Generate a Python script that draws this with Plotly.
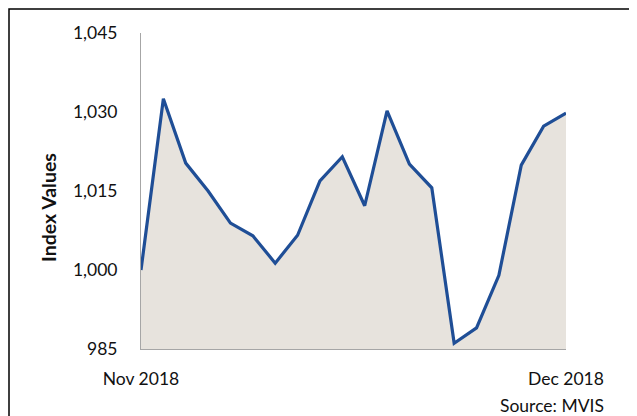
import plotly.graph_objects as go

x_idx = list(range(20))
values = [1000.0, 1032.5, 1020.3, 1015.0, 1008.9, 1006.5, 1001.3, 1006.6, 1016.9, 1021.5,
          1012.2, 1030.2, 1020.1, 1015.6, 986.1, 989.0, 999.0, 1019.9, 1027.3, 1029.8]
y_ticks = [985, 1000, 1015, 1030, 1045]
x_tickvals = [0, 19]
x_ticktext = ["Nov 2018", "Dec 2018"]

FONT = "Lato"
OFF = 8  # page body margin
L, R, T, B = 141 - OFF, 637 - 566, 33 - OFF, 416 - 349
PW, PH = 566 - 141, 349 - 33

def px_x(p):
    return (p - 141) / PW

def px_y(p):
    return (349 - p) / PH

fig = go.Figure()
fig.add_trace(go.Scatter(
    x=x_idx, y=values, mode="lines",
    line=dict(color="#1F4E96", width=3.2),
    fill="tozeroy", fillcolor="#E7E3DD",
    hoverinfo="skip", showlegend=False,
))

fig.update_layout(
    width=637 - OFF, height=416 - OFF,
    margin=dict(l=L, r=R, t=T, b=B),
    paper_bgcolor="white", plot_bgcolor="white",
    font=dict(family=FONT, size=17.5, color="#111111"),
    xaxis=dict(range=[0, 19], tickvals=x_tickvals, ticktext=x_ticktext,
               showgrid=False, zeroline=False, showline=True, linecolor="#A6A6A6",
               linewidth=1, ticks="", ticklabelstandoff=14),
    yaxis=dict(range=[985, 1045], tickvals=y_ticks, tickformat=",",
               showgrid=False, zeroline=False, showline=True, linecolor="#A6A6A6",
               linewidth=1, ticks="", ticklabelstandoff=19),
    annotations=[
        dict(text="<b>Index Values</b>", xref="paper", yref="paper",
             x=px_x(48), y=px_y(208), textangle=-90, showarrow=False,
             xanchor="center", yanchor="middle", font=dict(size=19.5)),
        dict(text="Source: MVIS", xref="paper", yref="paper",
             x=px_x(606), y=px_y(405), showarrow=False,
             xanchor="right", yanchor="middle", font=dict(size=17.5)),
    ],
    shapes=[
        dict(type="rect", xref="paper", yref="paper",
             x0=px_x(OFF + 1), x1=px_x(660),
             y0=px_y(440), y1=px_y(OFF + 1),
             line=dict(color="black", width=1.5), fillcolor="rgba(0,0,0,0)",
             layer="below"),
    ],
)

fig.write_html("out.html")
